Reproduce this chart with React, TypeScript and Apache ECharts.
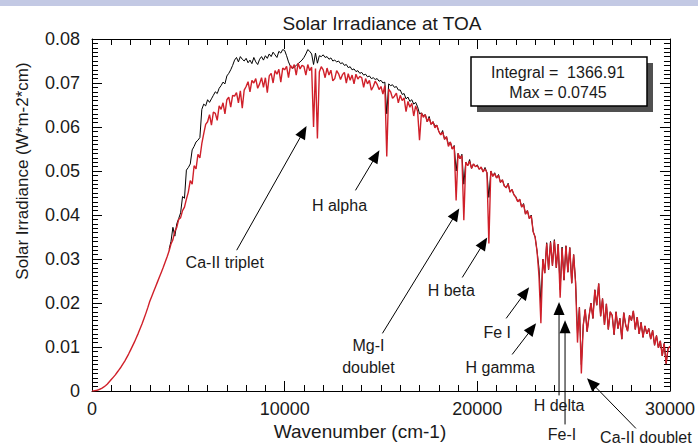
import React, { useEffect, useRef } from "react";
import * as echarts from "echarts";

// Wavenumber sampling (cm-1)
const X_STEP = 100;
const RED_START = 0;
const BLACK_START = 4000;

// Red spectrum (irradiance, W*m-2*cm), one value every 100 cm-1 from 0 to 30000
const redIrradiance = [
  0, 0.00003, 0.0001, 0.00022, 0.0004, 0.0006, 0.00088, 0.0012, 0.0016, 0.0021,
  0.0026, 0.0031, 0.0036, 0.0042, 0.0048, 0.0054, 0.0061, 0.0068, 0.0076, 0.0084,
  0.0093, 0.0102, 0.0111, 0.0121, 0.0131, 0.0142, 0.0153, 0.0165, 0.0177, 0.019,
  0.0204, 0.0215, 0.0226, 0.0237, 0.0248, 0.0259, 0.027, 0.0281, 0.0293, 0.0305,
  0.0318, 0.0334, 0.0344, 0.0363, 0.0372, 0.039, 0.0394, 0.041, 0.0418, 0.0436,
  0.0452, 0.0478, 0.047, 0.0512, 0.0505, 0.0538, 0.053, 0.0562, 0.0585, 0.0606,
  0.0612, 0.0628, 0.0604, 0.0634, 0.0631, 0.0615, 0.0648, 0.064, 0.0655, 0.063,
  0.0662, 0.0668, 0.0645, 0.0672, 0.067, 0.0678, 0.0655, 0.0682, 0.0643, 0.0684,
  0.0692, 0.0703, 0.068, 0.0706, 0.07, 0.071, 0.0688, 0.0698, 0.0712, 0.069,
  0.0712, 0.0678, 0.0716, 0.0722, 0.07, 0.0728, 0.072, 0.0731, 0.0702, 0.0734,
  0.073, 0.0738, 0.0712, 0.074, 0.0733, 0.0742, 0.0718, 0.0745, 0.0732, 0.074,
  0.0738, 0.0718, 0.0742, 0.0728, 0.0736, 0.06, 0.0733, 0.0574, 0.0725, 0.0737,
  0.073, 0.0712, 0.0734, 0.0718, 0.0729, 0.0705, 0.071, 0.0728, 0.0721, 0.0708,
  0.0719, 0.0724, 0.07, 0.0721, 0.0706, 0.0718, 0.0698, 0.072, 0.0709, 0.0715,
  0.0712, 0.069, 0.071, 0.0698, 0.0706, 0.0684, 0.0692, 0.0704, 0.0697, 0.0685,
  0.0692, 0.0675, 0.0694, 0.0533, 0.0686, 0.068, 0.0665, 0.067, 0.0677, 0.0655,
  0.0672, 0.066, 0.0666, 0.0635, 0.0658, 0.0645, 0.0654, 0.0625, 0.0648, 0.0636,
  0.057, 0.0632, 0.0622, 0.0628, 0.0612, 0.062, 0.0606, 0.0612, 0.0598, 0.0604,
  0.059, 0.0582, 0.0588, 0.0572, 0.0578, 0.0556, 0.0566, 0.055, 0.0556, 0.0433,
  0.054, 0.0528, 0.0535, 0.0388, 0.052, 0.0512, 0.0522, 0.0506, 0.0516, 0.051,
  0.0512, 0.0504, 0.0509, 0.0498, 0.0505, 0.0496, 0.0335, 0.05, 0.0488, 0.0494,
  0.0484, 0.049, 0.0474, 0.048, 0.0466, 0.0462, 0.047, 0.0452, 0.0458, 0.0446,
  0.044, 0.043, 0.0436, 0.0418, 0.0424, 0.0402, 0.041, 0.0392, 0.0398, 0.0362,
  0.035, 0.0318, 0.0262, 0.0154, 0.03, 0.0268, 0.0335, 0.0276, 0.0338, 0.0285,
  0.0342, 0.028, 0.0334, 0.0212, 0.0325, 0.0252, 0.033, 0.027, 0.0326, 0.0245,
  0.031, 0.0245, 0.011, 0.019, 0.004, 0.015, 0.0185, 0.0135, 0.017, 0.02,
  0.0165, 0.023, 0.0195, 0.0244, 0.017, 0.021, 0.015, 0.0198, 0.014, 0.018,
  0.0172, 0.0128, 0.018, 0.0142, 0.0165, 0.0118, 0.0178, 0.015, 0.0136, 0.0172,
  0.016, 0.0182, 0.014, 0.0168, 0.013, 0.0156, 0.0122, 0.0148, 0.013, 0.0142,
  0.0118, 0.0138, 0.0104, 0.0126, 0.0098, 0.0114, 0.008, 0.0108, 0.0062, 0.0096,
  0.0102,
];

// Black spectrum, one value every 100 cm-1 from 4000 to 30000 (below 4000 it lies under the red one)
const blackIrradiance = [
  0.0322, 0.034, 0.0372, 0.0352, 0.038, 0.0392, 0.0405, 0.0442, 0.0438, 0.0502,
  0.0508, 0.0516, 0.0548, 0.0556, 0.0566, 0.057, 0.0576, 0.064, 0.0652, 0.0648,
  0.0662, 0.0656, 0.0664, 0.0672, 0.068, 0.0676, 0.0688, 0.0694, 0.0702, 0.0698,
  0.0716, 0.0722, 0.073, 0.074, 0.0752, 0.0758, 0.0748, 0.076, 0.0754, 0.075,
  0.0756, 0.0746, 0.0752, 0.0744, 0.0758, 0.0748, 0.0742, 0.0754, 0.076, 0.0752,
  0.0762, 0.0756, 0.0766, 0.076, 0.077, 0.0764, 0.0758, 0.0772, 0.0768, 0.0776,
  0.0774, 0.0762, 0.0748, 0.0738, 0.0733, 0.0736, 0.074, 0.0744, 0.0748, 0.0752,
  0.0758, 0.0766, 0.0776, 0.0772, 0.0766, 0.0742, 0.0768, 0.0745, 0.0762, 0.076,
  0.0764, 0.0758, 0.076, 0.0754, 0.0757, 0.075, 0.0752, 0.0748, 0.075, 0.0744,
  0.0746, 0.074, 0.0742, 0.0735, 0.0737, 0.073, 0.0732, 0.0726, 0.0728, 0.0722,
  0.0724, 0.0718, 0.072, 0.0714, 0.0716, 0.071, 0.0712, 0.0708, 0.071, 0.0704,
  0.0706, 0.07, 0.0702, 0.063, 0.0698, 0.0694, 0.0696, 0.069, 0.0692, 0.0684,
  0.0684, 0.0674, 0.0676, 0.0664, 0.0668, 0.0658, 0.0662, 0.0652, 0.0656, 0.0646,
  0.063, 0.0632, 0.0626, 0.0628, 0.0612, 0.0624, 0.0606, 0.0612, 0.0602, 0.0604,
  0.059, 0.0582, 0.0592, 0.0572, 0.0578, 0.056, 0.0566, 0.055, 0.0558, 0.05,
  0.054, 0.0528, 0.0538, 0.047, 0.052, 0.0512, 0.0526, 0.0506, 0.0516, 0.051,
  0.0514, 0.0504, 0.0509, 0.0498, 0.0508, 0.0496, 0.044, 0.05, 0.0488, 0.0496,
  0.0484, 0.0492, 0.0474, 0.048, 0.0466, 0.0462, 0.0472, 0.0452, 0.0458, 0.0446,
  0.0442, 0.043, 0.0436, 0.0418, 0.0426, 0.0402, 0.041, 0.0392, 0.04, 0.0362,
  0.035, 0.0318, 0.028, 0.02, 0.03, 0.0268, 0.0337, 0.0276, 0.034, 0.0285,
  0.0344, 0.028, 0.0334, 0.023, 0.0327, 0.0252, 0.033, 0.027, 0.0326, 0.0245,
  0.031, 0.025, 0.013, 0.019, 0.006, 0.015, 0.0185, 0.0135, 0.017, 0.02,
  0.0165, 0.023, 0.0195, 0.0244, 0.017, 0.021, 0.015, 0.0198, 0.014, 0.018,
  0.0172, 0.0128, 0.018, 0.0142, 0.0165, 0.0118, 0.0178, 0.015, 0.0136, 0.0172,
  0.016, 0.0182, 0.014, 0.0168, 0.013, 0.0156, 0.0122, 0.0148, 0.013, 0.0142,
  0.0118, 0.0138, 0.0104, 0.0126, 0.0098, 0.0114, 0.008, 0.0108, 0.0062, 0.0096,
  0.0102,
];

const X_MIN = 0;
const X_MAX = 30000;
const X_INTERVAL = 10000;
const Y_MIN = 0;
const Y_MAX = 0.08;
const Y_INTERVAL = 0.01;

const TITLE = "Solar Irradiance at TOA";
const X_NAME = "Wavenumber (cm-1)";
const Y_NAME = "Solar Irradiance (W*m-2*cm)";
const INFO_LINES = ["Integral =  1366.91", "Max = 0.0745"];

// Annotation labels with text anchor / arrow tail / arrow tip in data units
const annotations: { label: string; text: [number, number]; tail: [number, number]; tip: [number, number] }[] = [
  { label: "Ca-II triplet", text: [6890, 0.0292], tail: [7511, 0.032], tip: [11137, 0.0602] },
  { label: "H alpha", text: [12846, 0.0422], tail: [13675, 0.0456], tip: [14918, 0.0547] },
  { label: "Mg-I\ndoublet", text: [14349, 0.0079], tail: [15074, 0.0131], tip: [19062, 0.0415] },
  { label: "H beta", text: [18648, 0.0229], tail: [19218, 0.0258], tip: [20513, 0.0349] },
  { label: "Fe I", text: [21031, 0.0133], tail: [21497, 0.0165], tip: [22688, 0.0236] },
  { label: "H gamma", text: [21186, 0.0054], tail: [21808, 0.0083], tip: [23051, 0.0154] },
  { label: "H delta", text: [24242, -0.0033], tail: [24242, -0.001], tip: [24242, 0.0202] },
  { label: "Fe-I", text: [24398, -0.0098], tail: [24553, -0.0076], tip: [24553, 0.0161] },
  { label: "Ca-II doublet", text: [28749, -0.0106], tail: [28231, -0.0085], tip: [25693, 0.0029] },
];

const FONT = "'Liberation Sans', Arial, Helvetica, sans-serif";
const TEXT_COLOR = "#1a1a1a";
const RED = "#d0202a";

export default function App() {
  const ref = useRef<HTMLDivElement>(null);

  useEffect(() => {
    if (!ref.current) return;
    const chart = echarts.init(ref.current, null, { renderer: "svg" });

    const red = redIrradiance.map((v, i) => [RED_START + i * X_STEP, v]);
    const black = blackIrradiance.map((v, i) => [BLACK_START + i * X_STEP, v]);

    const lineStyle = { color: "#000", width: 1 };
    const xCommon = {
      type: "value",
      min: X_MIN,
      max: X_MAX,
      interval: X_INTERVAL,
      axisLine: { show: true, onZero: false, lineStyle },
      axisTick: { show: true, inside: true, length: 10, lineStyle },
      minorTick: { show: true, splitNumber: 10, length: 6, lineStyle },
      splitLine: { show: false },
      minorSplitLine: { show: false },
    };
    const yCommon = {
      type: "value",
      min: Y_MIN,
      max: Y_MAX,
      interval: Y_INTERVAL,
      axisLine: { show: true, onZero: false, lineStyle },
      axisTick: { show: true, inside: true, length: 10, lineStyle },
      minorTick: { show: true, splitNumber: 10, length: 6, lineStyle },
      splitLine: { show: false },
      minorSplitLine: { show: false },
    };

    chart.setOption({
      animation: false,
      backgroundColor: "#ffffff",
      grid: { left: 92, right: 27, top: 39, bottom: 54 },
      xAxis: [
        {
          ...xCommon,
          position: "bottom",
          axisLabel: {
            show: true,
            fontSize: 18,
            color: TEXT_COLOR,
            fontFamily: FONT,
            margin: 9,
            showMinLabel: true,
            showMaxLabel: true,
            formatter: (v: number) => String(Math.round(v)),
          },
        },
        { ...xCommon, position: "top", axisLabel: { show: false } },
      ],
      yAxis: [
        {
          ...yCommon,
          position: "left",
          axisLabel: {
            show: true,
            fontSize: 18,
            color: TEXT_COLOR,
            fontFamily: FONT,
            margin: 12,
            formatter: (v: number) => (v === 0 ? "0" : v.toFixed(2)),
          },
        },
        { ...yCommon, position: "right", axisLabel: { show: false } },
      ],
      series: [
        {
          type: "line",
          data: black,
          xAxisIndex: 0,
          yAxisIndex: 0,
          symbol: "none",
          lineStyle: { color: "#000", width: 1 },
          z: 2,
        },
        {
          type: "line",
          data: red,
          xAxisIndex: 0,
          yAxisIndex: 0,
          symbol: "none",
          lineStyle: { color: RED, width: 1.4 },
          z: 3,
        },
      ],
    });

    const toPx = (p: [number, number]) =>
      chart.convertToPixel({ xAxisIndex: 0, yAxisIndex: 0 }, p) as number[];

    const graphics: any[] = [];
    graphics.push({ type: "rect", shape: { x: 0, y: 0, width: 698, height: 6 }, style: { fill: "#c3c9e4" }, z: 100 });
    graphics.push({
      type: "text",
      x: 382,
      y: 23,
      style: { text: TITLE, fontSize: 19, fontFamily: FONT, fill: TEXT_COLOR, align: "center", verticalAlign: "middle" },
      z: 100,
    });
    graphics.push({
      type: "text",
      x: 360,
      y: 431,
      style: { text: X_NAME, fontSize: 19, fontFamily: FONT, fill: TEXT_COLOR, align: "center", verticalAlign: "middle" },
      z: 100,
    });
    graphics.push({
      type: "text",
      x: 22,
      y: 171,
      rotation: Math.PI / 2,
      style: { text: Y_NAME, fontSize: 17, fontFamily: FONT, fill: TEXT_COLOR, align: "center", verticalAlign: "middle" },
      z: 100,
    });
    graphics.push({ type: "rect", shape: { x: 477, y: 63, width: 176, height: 49 }, style: { fill: "#505050" }, z: 100 });
    graphics.push({
      type: "rect",
      shape: { x: 471, y: 57, width: 176, height: 49 },
      style: { fill: "#ffffff", stroke: "#000", lineWidth: 1.5 },
      z: 101,
    });
    INFO_LINES.forEach((t, i) => {
      graphics.push({
        type: "text",
        x: 558,
        y: 72 + i * 20,
        style: { text: t, fontSize: 16, fontFamily: FONT, fill: TEXT_COLOR, align: "center", verticalAlign: "middle" },
        z: 102,
      });
    });

    annotations.forEach((a) => {
      const tp = toPx(a.text);
      const t = toPx(a.tail);
      const h = toPx(a.tip);
      const dx = h[0] - t[0];
      const dy = h[1] - t[1];
      const L = Math.hypot(dx, dy) || 1;
      const ux = dx / L;
      const uy = dy / L;
      const hl = 13;
      const hw = 5.5;
      const bx = h[0] - ux * hl;
      const by = h[1] - uy * hl;
      graphics.push({
        type: "line",
        shape: { x1: t[0], y1: t[1], x2: bx + ux * 2, y2: by + uy * 2 },
        style: { stroke: "#000", lineWidth: 1 },
        z: 110,
      });
      graphics.push({
        type: "polygon",
        shape: {
          points: [
            [h[0], h[1]],
            [bx - uy * hw, by + ux * hw],
            [bx + uy * hw, by - ux * hw],
          ],
        },
        style: { fill: "#000" },
        z: 110,
      });
      const multi = a.label.indexOf("\n") >= 0;
      graphics.push({
        type: "text",
        x: tp[0],
        y: tp[1],
        style: {
          text: a.label,
          fontSize: 16,
          fontFamily: FONT,
          fill: TEXT_COLOR,
          align: "center",
          verticalAlign: "middle",
          lineHeight: multi ? 22 : 16,
        },
        z: 111,
      });
    });

    chart.setOption({ graphic: graphics });

    return () => chart.dispose();
  }, []);

  return (
    <div
      ref={ref}
      style={{ position: "fixed", left: 0, top: 0, width: 698, height: 445, background: "#fff" }}
    />
  );
}
